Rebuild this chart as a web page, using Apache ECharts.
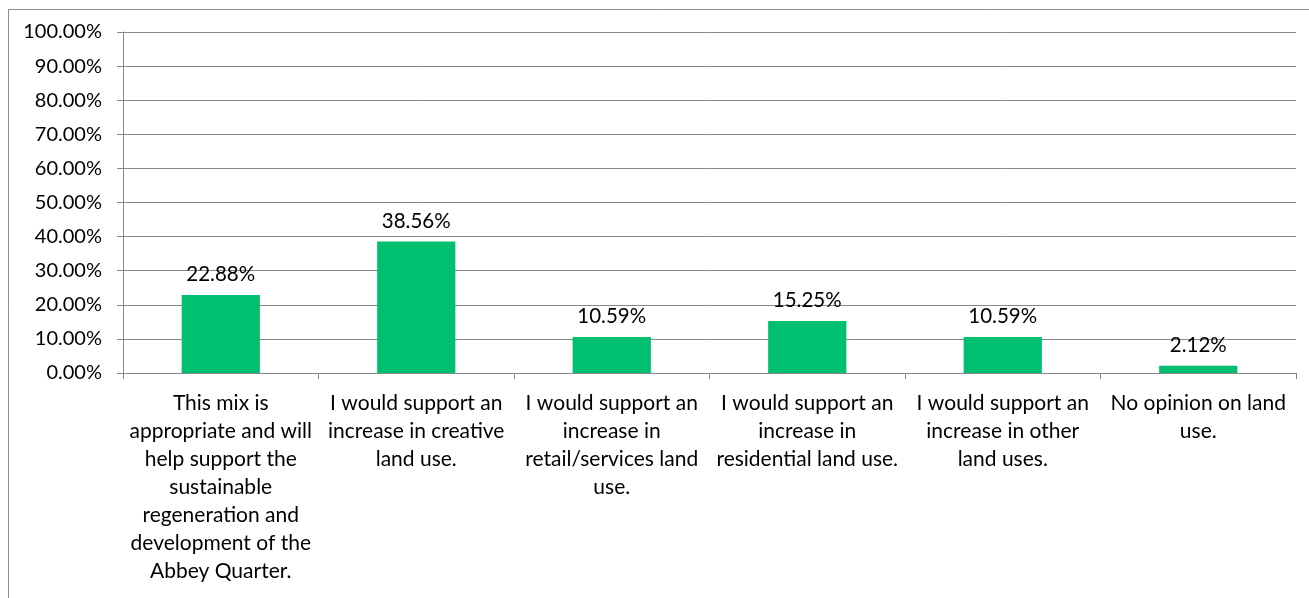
<!DOCTYPE html>
<html>
<head>
<meta charset="utf-8">
<script src="https://cdn.jsdelivr.net/npm/echarts@6/dist/echarts.min.js"></script>
<style>
  html, body { margin: 0; padding: 0; background: #fff; }
  #chart { width: 1309px; height: 598px; }
</style>
</head>
<body>
<div id="chart"></div>
<script>
// Survey responses on the proposed land-use mix (share of respondents, %)
const categories = [
  'This mix is\nappropriate and will\nhelp support the\nsustainable\nregeneration and\ndevelopment of the\nAbbey Quarter.',
  'I would support an\nincrease in creative\nland use.',
  'I would support an\nincrease in\nretail/services land\nuse.',
  'I would support an\nincrease in\nresidential land use.',
  'I would support an\nincrease in other\nland uses.',
  'No opinion on land\nuse.'
];
const shares = [22.88, 38.56, 10.59, 15.25, 10.59, 2.12];
const yTicks = { min: 0, max: 100, interval: 10 };

const FONT = 'Lato';
const AXIS_GREY = '#888888';

const chart = echarts.init(document.getElementById('chart'), null, { renderer: 'canvas' });
chart.setOption({
  animation: false,
  backgroundColor: '#ffffff',
  textStyle: { fontFamily: FONT },
  graphic: [{
    type: 'rect',
    left: 6, top: 7,
    shape: { x: 0.5, y: 0.5, width: 1320, height: 620 },
    style: { fill: 'none', stroke: '#8c8c8c', lineWidth: 1 },
    silent: true,
    z: -1
  }],
  grid: { left: 123, right: 13, top: 32, bottom: 225, containLabel: false },
  xAxis: {
    type: 'category',
    data: categories,
    boundaryGap: true,
    axisLine: { show: true, lineStyle: { color: AXIS_GREY, width: 1 } },
    axisTick: { show: true, length: 6, alignWithLabel: false, lineStyle: { color: AXIS_GREY } },
    axisLabel: {
      interval: 0,
      margin: 16,
      color: '#000',
      fontFamily: FONT,
      fontSize: 21,
      lineHeight: 28,
      align: 'center'
    },
    splitLine: { show: false }
  },
  yAxis: {
    type: 'value',
    min: yTicks.min,
    max: yTicks.max,
    interval: yTicks.interval,
    axisLine: { show: true, lineStyle: { color: AXIS_GREY, width: 1 } },
    axisTick: { show: true, length: 6, inside: false, lineStyle: { color: AXIS_GREY } },
    axisLabel: {
      margin: 21,
      color: '#000',
      fontFamily: FONT,
      fontSize: 20,
      formatter: v => v.toFixed(2) + '%'
    },
    splitLine: { show: true, lineStyle: { color: AXIS_GREY, width: 1 } }
  },
  series: [{
    type: 'bar',
    data: shares,
    barWidth: '40%',
    itemStyle: { color: '#00BF6F' },
    label: {
      show: true,
      position: 'top',
      distance: 10,
      color: '#000',
      fontFamily: FONT,
      fontSize: 20.5,
      formatter: p => p.value.toFixed(2) + '%'
    }
  }]
});
</script>
</body>
</html>
